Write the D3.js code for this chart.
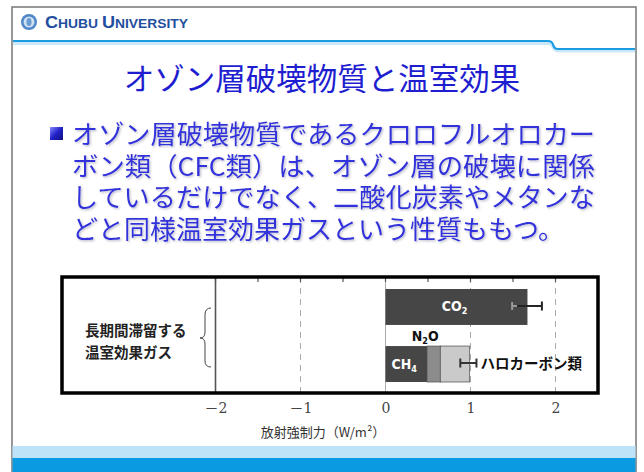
<!DOCTYPE html>
<html><head><meta charset="utf-8">
<script src="https://cdn.jsdelivr.net/npm/d3@7/dist/d3.min.js"></script>
<style>html,body{margin:0;padding:0;background:#fff;}svg{display:block;}</style>
</head><body>
<script>
// ---- data ----
const headerText = "CHUBU UNIVERSITY";
const titleText = "オゾン層破壊物質と温室効果";
const bulletLines = [
  "オゾン層破壊物質であるクロロフルオロカー",
  "ボン類（CFC類）は、オゾン層の破壊に関係",
  "しているだけでなく、二酸化炭素やメタンな",
  "どと同様温室効果ガスという性質ももつ。"
];
const groupLabel = ["長期間滞留する", "温室効果ガス"];
const rows = ["CO2", "others"];
const co2Value = 1.67;
const co2Err = [1.49, 1.84];
const stackNames = ["CH4", "N2O", "ハロカーボン類"];
const stackValues = [0.49, 0.155, 0.345];
const stackErr = [0.88, 1.07];
const tickValues = [-2, -1, 0, 1, 2];
const tickLabels = ["－2", "－1", "0", "1", "2"];
const minorTicks = [-2, -1.5, -1, -0.5, 0, 0.5, 1, 1.5, 2, 2.5];
const axisTitle = "放射強制力（W/m²）";

const W = 644, H = 472;
const svg = d3.select("body").append("svg").attr("width", W).attr("height", H);
const defs = svg.append("defs");
const f = defs.append("filter").attr("id","sh").attr("x","-5%").attr("y","-20%").attr("width","110%").attr("height","140%");
f.append("feDropShadow").attr("dx",1.2).attr("dy",1.2).attr("stdDeviation",0.8).attr("flood-color","#9a9ab0").attr("flood-opacity",0.7);
const g1 = defs.append("linearGradient").attr("id","bul").attr("x1","0").attr("y1","0").attr("x2","1").attr("y2","1");
g1.append("stop").attr("offset","0").attr("stop-color","#8a8aff");
g1.append("stop").attr("offset","0.5").attr("stop-color","#2020c8");
g1.append("stop").attr("offset","1").attr("stop-color","#10107a");

// ---- slide frame ----
svg.append("rect").attr("x",0).attr("y",0).attr("width",W).attr("height",H).attr("fill","#fff");
svg.append("path").attr("d","M12,472 V7 H636 V472").attr("fill","none").attr("stroke","#777").attr("stroke-width",1.5);
// bottom bands
svg.append("rect").attr("x",12.5).attr("y",446).attr("width",623).attr("height",12).attr("fill","#bde3f8");
svg.append("rect").attr("x",12.5).attr("y",458).attr("width",623).attr("height",14).attr("fill","#0a9ae2");
// header line with step
svg.append("path").attr("d","M13,43.5 H548 Q552,43.5 553,47 Q554,51 558,51 H635")
  .attr("fill","none").attr("stroke","#cbe8f8").attr("stroke-width",3);
svg.append("path").attr("d","M13,41 H548 Q552,41 553,44.5 Q554,49 558,49 H635")
  .attr("fill","none").attr("stroke","#1a9be2").attr("stroke-width",2.2);
// logo
const logo = svg.append("g");
logo.append("circle").attr("cx",29).attr("cy",22).attr("r",8).attr("fill","#4f86c8");
logo.append("circle").attr("cx",29).attr("cy",22).attr("r",5.5).attr("fill","#cfe0f2");
logo.append("ellipse").attr("cx",29).attr("cy",22).attr("rx",2.5).attr("ry",4).attr("fill","#6c9bd2");
// header text
const ht = svg.append("text").attr("x",45).attr("y",28).attr("fill","#1f4f9e")
  .attr("font-family","'Liberation Sans', Arial, sans-serif").attr("font-weight","bold")
  .attr("textLength",143).attr("lengthAdjust","spacingAndGlyphs");
[["C",17],["HUBU ",13],["U",17],["NIVERSITY",13]].forEach(([t,s])=>ht.append("tspan").attr("font-size",s).text(t));

// title
svg.append("text").attr("x",322).attr("y",90).attr("text-anchor","middle")
  .attr("font-family","'Noto Sans CJK JP', sans-serif").attr("font-size",30.5)
  .attr("fill","#1e1ed0").text(titleText);

// bullet
svg.append("rect").attr("x",50).attr("y",127).attr("width",13).attr("height",13).attr("fill","url(#bul)");
const bl = svg.append("g").attr("filter","url(#sh)");
bulletLines.forEach((t,i)=>{
  const tx = bl.append("text").attr("x",72).attr("y",144 + i*31.5)
    .attr("font-family","'Noto Sans CJK JP', sans-serif").attr("font-size",26)
    .attr("fill","#3030dc").text(t);
  if (i < 3) tx.attr("textLength",523).attr("lengthAdjust","spacingAndGlyphs");
});

// ---- chart ----
const x = d3.scaleLinear().domain([-2, 2]).range([215.5, 555.5]);
const y = d3.scaleBand().domain(rows).range([289, 382]).paddingInner(0.37).paddingOuter(0);
const boxL = 62, boxR = 598, boxT = 277, boxB = 393;
const chart = svg.append("g");

// gridlines
chart.selectAll("line.grid").data(tickValues.filter(v=>v!==-2)).join("line")
  .attr("x1",d=>x(d)).attr("x2",d=>x(d)).attr("y1",boxT).attr("y2",boxB)
  .attr("stroke",d=>d===0?"#aaa":"#aaa").attr("stroke-width",1)
  .attr("stroke-dasharray",d=>d===0?null:"6,5");
chart.append("line").attr("x1",x(-2)).attr("x2",x(-2)).attr("y1",boxT).attr("y2",boxB)
  .attr("stroke","#555").attr("stroke-width",1.6);
// minor ticks at top
chart.selectAll("line.mt").data(minorTicks).join("line")
  .attr("x1",d=>x(d)).attr("x2",d=>x(d)).attr("y1",boxT).attr("y2",boxT+5)
  .attr("stroke","#555").attr("stroke-width",1.2);

// CO2 bar
chart.append("rect").attr("x",x(0)).attr("y",y("CO2")).attr("width",x(co2Value)-x(0)).attr("height",y.bandwidth()).attr("fill","#464646");
// stacked bar
let cum = 0;
const stackColors = ["#464646","#8c8c8c","#cacaca"];
const segs = stackValues.map((v,i)=>{const s={name:stackNames[i],x0:cum,x1:cum+v,c:stackColors[i]}; cum+=v; return s;});
chart.selectAll("rect.seg").data(segs).join("rect")
  .attr("x",d=>x(d.x0)).attr("y",y("others")).attr("width",d=>x(d.x1)-x(d.x0)).attr("height",y.bandwidth())
  .attr("fill",d=>d.c).attr("stroke",(d,i)=>i===0?"none":"#5a5a5a").attr("stroke-width",0.8);

// error bars
const cy1 = y("CO2") + y.bandwidth()/2 - 1;
chart.append("line").attr("x1",x(co2Err[0])).attr("x2",x(co2Err[0])+5).attr("y1",cy1).attr("y2",cy1).attr("stroke","#9a9a9a").attr("stroke-width",2);
chart.append("line").attr("x1",x(co2Err[0])).attr("x2",x(co2Err[0])).attr("y1",cy1-4).attr("y2",cy1+4).attr("stroke","#9a9a9a").attr("stroke-width",2);
chart.append("line").attr("x1",x(co2Err[0])+5).attr("x2",x(co2Err[1])).attr("y1",cy1).attr("y2",cy1).attr("stroke","#222").attr("stroke-width",2);
chart.append("line").attr("x1",x(co2Err[1])).attr("x2",x(co2Err[1])).attr("y1",cy1-4.5).attr("y2",cy1+4.5).attr("stroke","#222").attr("stroke-width",2);
const cy2 = y("others") + y.bandwidth()/2 - 1;
chart.append("line").attr("x1",x(stackErr[0])).attr("x2",x(stackErr[1])).attr("y1",cy2).attr("y2",cy2).attr("stroke","#333").attr("stroke-width",2);
stackErr.forEach(v=>chart.append("line").attr("x1",x(v)).attr("x2",x(v)).attr("y1",cy2-4.5).attr("y2",cy2+4.5).attr("stroke","#333").attr("stroke-width",2));

// bar labels
const narrow = "'Liberation Sans Narrow', 'DejaVu Sans Condensed', Arial, sans-serif";
function chem(t, base, sub, after, xx, yy, fill, anchor){
  const tx = chart.append("text").attr("x",xx).attr("y",yy).attr("text-anchor",anchor)
    .attr("font-family",narrow).attr("font-weight","bold").attr("font-size",14).attr("fill",fill);
  tx.append("tspan").text(base);
  tx.append("tspan").attr("font-size",9).attr("dy",3).text(sub);
  if (after) tx.append("tspan").attr("dy",-3).text(after);
}
chem("CO2","CO","2","", x(co2Value/2)-2, cy1+5, "#fff", "middle");
chem("N2O","N","2","O", x(segs[1].x0)-2, 341, "#111", "middle");
chem("CH4","CH","4","", x(0)+6, cy2+6, "#fff", "start");
chart.append("text").attr("x",x(stackErr[1])+4).attr("y",cy2+6)
  .attr("font-family","'Noto Sans CJK JP', sans-serif").attr("font-weight","bold").attr("font-size",14.5)
  .attr("fill","#111").text(stackNames[2]);

// group label and brace
groupLabel.forEach((t,i)=>chart.append("text").attr("x",85).attr("y",336 + i*22)
  .attr("font-family","'Noto Sans CJK JP', sans-serif").attr("font-weight","bold").attr("font-size",14.5)
  .attr("fill","#222").text(t));
chart.append("path").attr("d","M211,308 Q205,308 205,315 L205,332 Q205,338 200,338 Q205,338 205,344 L205,361 Q205,367 211,367")
  .attr("fill","none").attr("stroke","#444").attr("stroke-width",1);

// box
chart.append("rect").attr("x",boxL).attr("y",boxT).attr("width",boxR-boxL).attr("height",boxB-boxT)
  .attr("fill","none").attr("stroke","#000").attr("stroke-width",3.5);

// axis labels
const axis = d3.axisBottom(x).tickValues(tickValues).tickFormat((d,i)=>tickLabels[i]).tickSize(0).tickPadding(0);
const ax = svg.append("g").attr("transform",`translate(0,${boxB+10})`).call(axis);
ax.select(".domain").remove();
ax.selectAll("text").attr("font-family","'DejaVu Serif', 'Noto Sans CJK JP', serif").attr("font-size",14)
  .attr("fill","#444").attr("dy","0.71em");
svg.append("text").attr("x",323).attr("y",437).attr("text-anchor","middle")
  .attr("font-family","'Noto Sans CJK JP', sans-serif").attr("font-size",13).attr("fill","#333").text(axisTitle);
</script>
</body></html>
